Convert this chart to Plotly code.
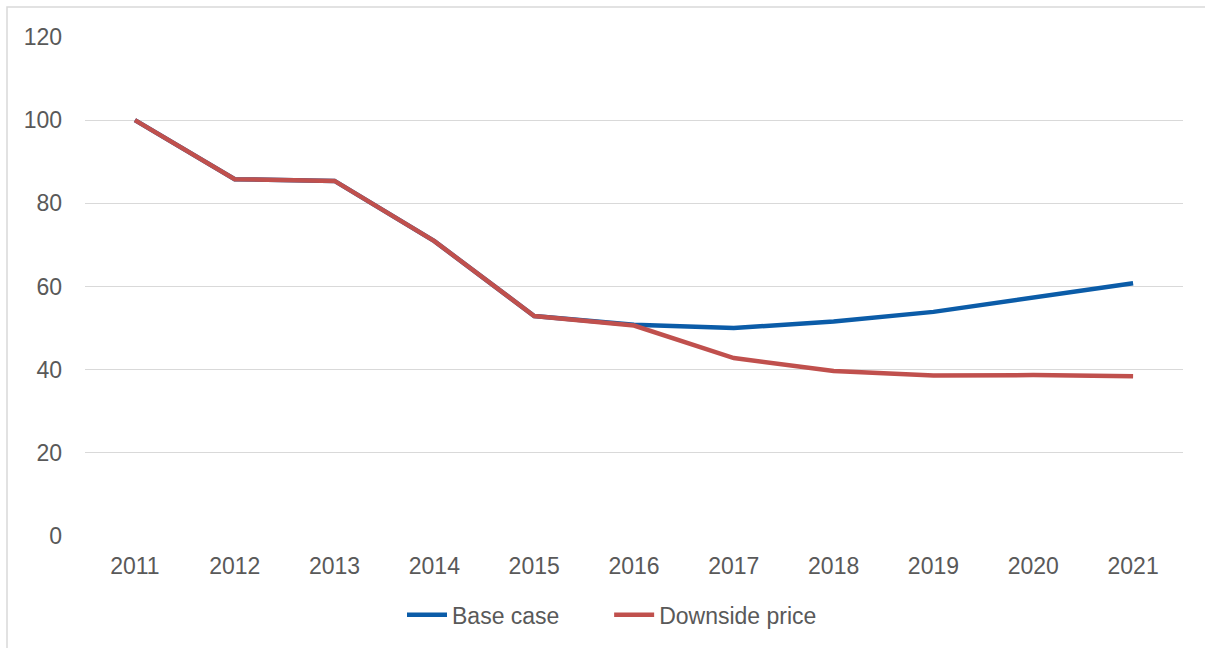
import plotly.graph_objects as go

years = ["2011", "2012", "2013", "2014", "2015", "2016", "2017", "2018", "2019", "2020", "2021"]
base_case = [100.0, 85.8, 85.4, 70.9, 52.9, 50.8, 50.0, 51.6, 53.9, 57.4, 60.8]
downside_price = [100.0, 85.8, 85.4, 70.9, 52.9, 50.6, 42.8, 39.7, 38.6, 38.7, 38.4]
y_ticks = [0, 20, 40, 60, 80, 100, 120]
series_names = ["Base case", "Downside price"]

font_family = "Liberation Sans, Arial, sans-serif"
text_color = "#595959"
fs = 23

fig = go.Figure()
fig.add_trace(go.Scatter(x=years, y=base_case, mode="lines",
                         name=series_names[0] + "\u00a0" * 7,
                         line=dict(color="#0B5CA8", width=4.5)))
fig.add_trace(go.Scatter(x=years, y=downside_price, mode="lines", name=series_names[1],
                         line=dict(color="#C0504D", width=4.5)))

W, H = 1205, 648
ml, mr, mt, mb = 85, 22, 37, 110
pw, ph = W - ml - mr, H - mt - mb

fig.update_layout(
    width=W, height=H,
    margin=dict(l=ml, r=mr, t=mt, b=mb),
    paper_bgcolor="white", plot_bgcolor="white",
    font=dict(family=font_family, size=fs, color=text_color),
    showlegend=True,
    legend=dict(orientation="h", x=(402 - ml) / pw, xanchor="left", y=(mt + ph - 617) / ph,
                yanchor="middle", font=dict(size=fs, color=text_color),
                itemwidth=40, traceorder="normal"),
    xaxis=dict(type="category", range=[-0.5, 10.5], showgrid=False, zeroline=False,
               showline=False, ticks="", ticklabelstandoff=14,
               tickfont=dict(size=fs, color=text_color)),
    yaxis=dict(range=[0, 120], tickvals=y_ticks, showgrid=True, gridcolor="#D9D9D9",
               gridwidth=1.3, zeroline=False, showline=False, ticks="",
               ticklabelstandoff=22, tickfont=dict(size=fs, color=text_color)),
    shapes=[dict(type="rect", xref="paper", yref="paper",
                 x0=(7 - ml) / pw, x1=(W + 10 - ml) / pw,
                 y0=(mt + ph - (H + 10)) / ph, y1=(mt + ph - 7) / ph,
                 line=dict(color="#D9D9D9", width=1.5), fillcolor="rgba(0,0,0,0)",
                 layer="below")],
)

fig.write_html("out.html", config={"displayModeBar": False},
               post_script="document.body.style.margin='0px';document.body.style.overflow='hidden';")
